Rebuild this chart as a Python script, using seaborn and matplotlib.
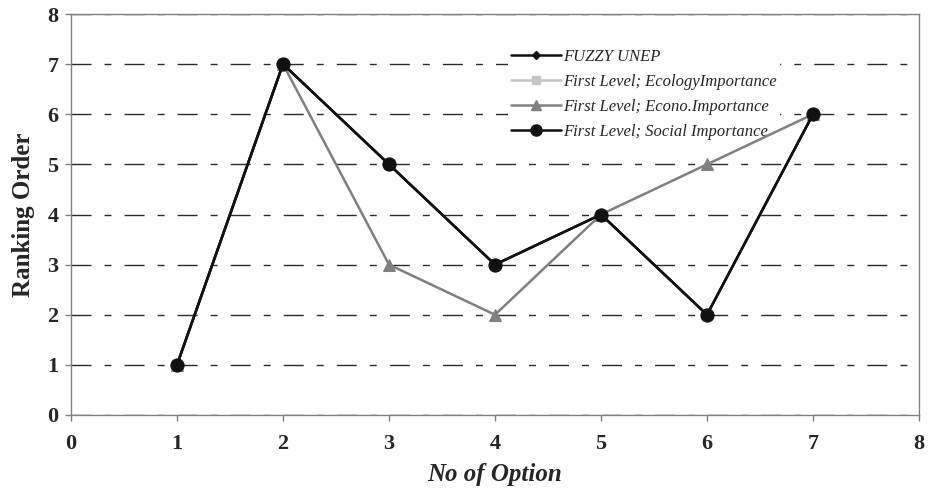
import matplotlib
matplotlib.use("Agg")
import matplotlib.pyplot as plt
import seaborn as sns
import pandas as pd
from matplotlib.lines import Line2D

options = [1, 2, 3, 4, 5, 6, 7]
fuzzy_unep = [1, 7, 5, 3, 4, 2, 6]
ecology = [1, 7, 5, 3, 4, 2, 6]
econo = [1, 7, 3, 2, 4, 5, 6]
social = [1, 7, 5, 3, 4, 2, 6]
series_names = ["FUZZY UNEP", "First Level; EcologyImportance",
                "First Level; Econo.Importance", "First Level; Social Importance"]
ticks = [0, 1, 2, 3, 4, 5, 6, 7, 8]

sns.set_theme(style="white")
plt.rcParams['font.family'] = ['Liberation Serif', 'DejaVu Serif']

rows = []
for name, vals in zip(series_names, [fuzzy_unep, ecology, econo, social]):
    for x, v in zip(options, vals):
        rows.append({"option": x, "rank": v, "series": name})
df = pd.DataFrame(rows)

fig = plt.figure(figsize=(9.29, 4.91), dpi=100)
ax = fig.add_axes([71/929, 1-415/491, 848/929, 401/491])

palette = {series_names[0]: "#111111", series_names[1]: "#c4c4c4",
           series_names[2]: "#808080", series_names[3]: "#111111"}
markers = {series_names[0]: "D", series_names[1]: "s",
           series_names[2]: "^", series_names[3]: "o"}
sizes_m = {series_names[0]: 6, series_names[1]: 7,
           series_names[2]: 8, series_names[3]: 9.5}

order = [series_names[1], series_names[2], series_names[0], series_names[3]]
z = {n: i + 3 for i, n in enumerate(order)}
for name in order:
    sub = df[df.series == name]
    sns.lineplot(data=sub, x="option", y="rank", ax=ax, color=palette[name],
                 marker=markers[name], markersize=sizes_m[name],
                 markeredgecolor=palette[name], linewidth=1.8,
                 label=name, zorder=z[name], legend=False)

ax.set_xlim(0, 8)
ax.set_ylim(0, 8)
ax.set_xticks(ticks)
ax.set_yticks(ticks)
ax.set_xticklabels([str(t) for t in ticks], fontsize=16, fontweight="bold")
ax.set_yticklabels([str(t) for t in ticks], fontsize=16, fontweight="bold")
ax.tick_params(axis="both", direction="out", length=4, width=1, color="#808080",
               bottom=True, left=True)
ax.tick_params(axis="x", pad=10)
ax.tick_params(axis="y", pad=5)
for sp in ax.spines.values():
    sp.set_color("#808080")
    sp.set_linewidth(1)
    sp.set_visible(True)
ax.yaxis.grid(True, color="#2a2a2a", linewidth=1, linestyle=(0, (14.4, 9.4, 5, 9.4)))
ax.xaxis.grid(False)
ax.set_axisbelow(True)

ax.set_xlabel("No of Option", fontsize=18, fontweight="bold", fontstyle="italic", labelpad=6)
ax.set_ylabel("Ranking Order", fontsize=18, fontweight="bold", labelpad=9)

handles = []
for name in series_names:
    handles.append(Line2D([], [], color=palette[name], marker=markers[name],
                          markersize=sizes_m[name] - 1.5, linewidth=1.8,
                          markeredgecolor=palette[name]))
leg = ax.legend(handles, series_names, loc="upper left", bbox_to_anchor=(0.515, 0.922),
                frameon=True, facecolor="white", edgecolor="none", framealpha=1,
                prop={"family": "Liberation Serif", "style": "italic", "size": 12},
                handlelength=3.0, handletextpad=0.1, labelspacing=0.55, borderpad=0.2,
                borderaxespad=0, fancybox=False)
leg.set_zorder(2.5)

fig.savefig("out.png", dpi=100)
